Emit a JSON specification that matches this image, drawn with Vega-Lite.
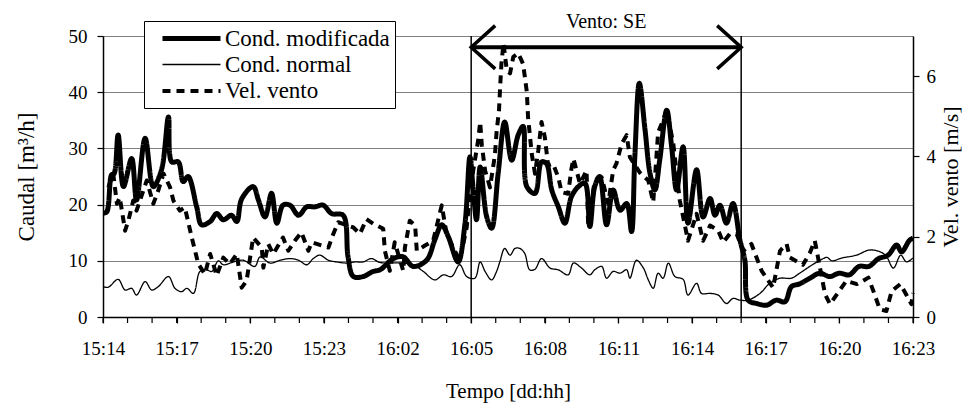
{
  "$schema": "https://vega.github.io/schema/vega-lite/v6.json",
  "width": 810,
  "height": 281,
  "autosize": {"type": "none"},
  "padding": {"left": 103, "top": 36, "right": 56, "bottom": 88},
  "background": "white",
  "config": {
    "font": "Liberation Serif",
    "view": {"stroke": null},
    "axis": {
      "labelFont": "Liberation Serif",
      "titleFont": "Liberation Serif",
      "labelColor": "black",
      "titleColor": "black",
      "titleFontWeight": "normal",
      "domainColor": "black",
      "tickColor": "black",
      "labelFontSize": 19,
      "titleFontSize": 23,
      "domainWidth": 1.5,
      "tickWidth": 1.2,
      "tickSize": 6
    }
  },
  "data": {
    "format": {"parse": {"t": "utc:'%d %H:%M'"}},
    "values": [
      {"s": "Cond. modificada", "t": "15 14:00", "v": 18.5},
      {"s": "Cond. modificada", "t": "15 14:09", "v": 18.7},
      {"s": "Cond. modificada", "t": "15 14:21", "v": 25.3},
      {"s": "Cond. modificada", "t": "15 14:27", "v": 25.5},
      {"s": "Cond. modificada", "t": "15 14:37", "v": 32.4},
      {"s": "Cond. modificada", "t": "15 14:50", "v": 23.2},
      {"s": "Cond. modificada", "t": "15 15:10", "v": 28.2},
      {"s": "Cond. modificada", "t": "15 15:22", "v": 20.8},
      {"s": "Cond. modificada", "t": "15 15:43", "v": 31.8},
      {"s": "Cond. modificada", "t": "15 16:03", "v": 23.2},
      {"s": "Cond. modificada", "t": "15 16:23", "v": 26.2},
      {"s": "Cond. modificada", "t": "15 16:40", "v": 35.6},
      {"s": "Cond. modificada", "t": "15 16:48", "v": 27.6},
      {"s": "Cond. modificada", "t": "15 17:04", "v": 27.6},
      {"s": "Cond. modificada", "t": "15 17:16", "v": 24.1},
      {"s": "Cond. modificada", "t": "15 17:28", "v": 25},
      {"s": "Cond. modificada", "t": "15 17:49", "v": 19.6},
      {"s": "Cond. modificada", "t": "15 18:01", "v": 16.4},
      {"s": "Cond. modificada", "t": "15 18:22", "v": 17},
      {"s": "Cond. modificada", "t": "15 18:38", "v": 18.4},
      {"s": "Cond. modificada", "t": "15 18:54", "v": 17.3},
      {"s": "Cond. modificada", "t": "15 19:14", "v": 18.1},
      {"s": "Cond. modificada", "t": "15 19:27", "v": 17},
      {"s": "Cond. modificada", "t": "15 19:39", "v": 21},
      {"s": "Cond. modificada", "t": "15 20:07", "v": 23.2},
      {"s": "Cond. modificada", "t": "15 20:20", "v": 20.8},
      {"s": "Cond. modificada", "t": "15 20:36", "v": 17.8},
      {"s": "Cond. modificada", "t": "15 20:52", "v": 22},
      {"s": "Cond. modificada", "t": "15 21:05", "v": 16.7},
      {"s": "Cond. modificada", "t": "15 21:20", "v": 19.9},
      {"s": "Cond. modificada", "t": "15 21:37", "v": 19.9},
      {"s": "Cond. modificada", "t": "15 21:58", "v": 18.1},
      {"s": "Cond. modificada", "t": "15 22:18", "v": 19.6},
      {"s": "Cond. modificada", "t": "15 22:38", "v": 19.6},
      {"s": "Cond. modificada", "t": "15 22:58", "v": 19.9},
      {"s": "Cond. modificada", "t": "15 23:19", "v": 18.4},
      {"s": "Cond. modificada", "t": "15 23:47", "v": 18.1},
      {"s": "Cond. modificada", "t": "15 23:59", "v": 10.7},
      {"s": "Cond. modificada", "t": "16 00:12", "v": 7.2},
      {"s": "Cond. modificada", "t": "16 00:36", "v": 7.2},
      {"s": "Cond. modificada", "t": "16 01:00", "v": 8.1},
      {"s": "Cond. modificada", "t": "16 01:17", "v": 8.4},
      {"s": "Cond. modificada", "t": "16 01:50", "v": 10.4},
      {"s": "Cond. modificada", "t": "16 02:14", "v": 10.7},
      {"s": "Cond. modificada", "t": "16 02:38", "v": 9},
      {"s": "Cond. modificada", "t": "16 03:11", "v": 10.1},
      {"s": "Cond. modificada", "t": "16 03:31", "v": 13.7},
      {"s": "Cond. modificada", "t": "16 03:48", "v": 16.4},
      {"s": "Cond. modificada", "t": "16 04:04", "v": 14.3},
      {"s": "Cond. modificada", "t": "16 04:28", "v": 9.8},
      {"s": "Cond. modificada", "t": "16 04:45", "v": 16.7},
      {"s": "Cond. modificada", "t": "16 04:57", "v": 28.5},
      {"s": "Cond. modificada", "t": "16 05:05", "v": 22.6},
      {"s": "Cond. modificada", "t": "16 05:13", "v": 17.3},
      {"s": "Cond. modificada", "t": "16 05:22", "v": 26.7},
      {"s": "Cond. modificada", "t": "16 05:38", "v": 17.8},
      {"s": "Cond. modificada", "t": "16 05:50", "v": 15.8},
      {"s": "Cond. modificada", "t": "16 06:06", "v": 25.6},
      {"s": "Cond. modificada", "t": "16 06:22", "v": 34.7},
      {"s": "Cond. modificada", "t": "16 06:39", "v": 27.9},
      {"s": "Cond. modificada", "t": "16 06:55", "v": 32.4},
      {"s": "Cond. modificada", "t": "16 07:07", "v": 33.9},
      {"s": "Cond. modificada", "t": "16 07:16", "v": 23.2},
      {"s": "Cond. modificada", "t": "16 07:36", "v": 22},
      {"s": "Cond. modificada", "t": "16 07:52", "v": 27.6},
      {"s": "Cond. modificada", "t": "16 08:04", "v": 27.3},
      {"s": "Cond. modificada", "t": "16 08:17", "v": 22.6},
      {"s": "Cond. modificada", "t": "16 08:33", "v": 19.6},
      {"s": "Cond. modificada", "t": "16 08:49", "v": 16.7},
      {"s": "Cond. modificada", "t": "16 09:05", "v": 21.4},
      {"s": "Cond. modificada", "t": "16 09:22", "v": 23.2},
      {"s": "Cond. modificada", "t": "16 09:38", "v": 23.8},
      {"s": "Cond. modificada", "t": "16 09:50", "v": 16.1},
      {"s": "Cond. modificada", "t": "16 10:02", "v": 23.2},
      {"s": "Cond. modificada", "t": "16 10:14", "v": 25},
      {"s": "Cond. modificada", "t": "16 10:31", "v": 16.4},
      {"s": "Cond. modificada", "t": "16 10:47", "v": 22.6},
      {"s": "Cond. modificada", "t": "16 11:04", "v": 19},
      {"s": "Cond. modificada", "t": "16 11:20", "v": 20.2},
      {"s": "Cond. modificada", "t": "16 11:32", "v": 15.2},
      {"s": "Cond. modificada", "t": "16 11:40", "v": 28.5},
      {"s": "Cond. modificada", "t": "16 11:51", "v": 41.6},
      {"s": "Cond. modificada", "t": "16 12:05", "v": 33.3},
      {"s": "Cond. modificada", "t": "16 12:17", "v": 25.6},
      {"s": "Cond. modificada", "t": "16 12:29", "v": 22.6},
      {"s": "Cond. modificada", "t": "16 12:41", "v": 28},
      {"s": "Cond. modificada", "t": "16 12:58", "v": 36.8},
      {"s": "Cond. modificada", "t": "16 13:10", "v": 30.3},
      {"s": "Cond. modificada", "t": "16 13:22", "v": 22.6},
      {"s": "Cond. modificada", "t": "16 13:38", "v": 30.3},
      {"s": "Cond. modificada", "t": "16 13:50", "v": 16.7},
      {"s": "Cond. modificada", "t": "16 14:11", "v": 26.2},
      {"s": "Cond. modificada", "t": "16 14:27", "v": 17.8},
      {"s": "Cond. modificada", "t": "16 14:44", "v": 21.1},
      {"s": "Cond. modificada", "t": "16 14:56", "v": 18.1},
      {"s": "Cond. modificada", "t": "16 15:08", "v": 19.9},
      {"s": "Cond. modificada", "t": "16 15:24", "v": 16.7},
      {"s": "Cond. modificada", "t": "16 15:40", "v": 20.2},
      {"s": "Cond. modificada", "t": "16 15:57", "v": 13.7},
      {"s": "Cond. modificada", "t": "16 16:09", "v": 10.1},
      {"s": "Cond. modificada", "t": "16 16:17", "v": 3},
      {"s": "Cond. modificada", "t": "16 16:38", "v": 2.4},
      {"s": "Cond. modificada", "t": "16 17:02", "v": 2.1},
      {"s": "Cond. modificada", "t": "16 17:26", "v": 3},
      {"s": "Cond. modificada", "t": "16 17:47", "v": 2.7},
      {"s": "Cond. modificada", "t": "16 18:03", "v": 5.4},
      {"s": "Cond. modificada", "t": "16 18:23", "v": 5.9},
      {"s": "Cond. modificada", "t": "16 18:48", "v": 6.9},
      {"s": "Cond. modificada", "t": "16 19:12", "v": 7.8},
      {"s": "Cond. modificada", "t": "16 19:36", "v": 7.2},
      {"s": "Cond. modificada", "t": "16 20:00", "v": 7.8},
      {"s": "Cond. modificada", "t": "16 20:24", "v": 7.5},
      {"s": "Cond. modificada", "t": "16 20:48", "v": 9},
      {"s": "Cond. modificada", "t": "16 21:12", "v": 9},
      {"s": "Cond. modificada", "t": "16 21:36", "v": 10.4},
      {"s": "Cond. modificada", "t": "16 21:59", "v": 11},
      {"s": "Cond. modificada", "t": "16 22:20", "v": 12.8},
      {"s": "Cond. modificada", "t": "16 22:32", "v": 11.6},
      {"s": "Cond. modificada", "t": "16 22:52", "v": 13.7},
      {"s": "Cond. modificada", "t": "16 23:00", "v": 14},

      {"s": "Cond. normal", "t": "15 14:00", "v": 5.4},
      {"s": "Cond. normal", "t": "15 14:13", "v": 5.3},
      {"s": "Cond. normal", "t": "15 14:37", "v": 6.7},
      {"s": "Cond. normal", "t": "15 14:54", "v": 4.8},
      {"s": "Cond. normal", "t": "15 15:10", "v": 5.1},
      {"s": "Cond. normal", "t": "15 15:22", "v": 3.9},
      {"s": "Cond. normal", "t": "15 15:43", "v": 6.3},
      {"s": "Cond. normal", "t": "15 15:59", "v": 4.8},
      {"s": "Cond. normal", "t": "15 16:15", "v": 5.4},
      {"s": "Cond. normal", "t": "15 16:40", "v": 7.2},
      {"s": "Cond. normal", "t": "15 16:56", "v": 5.1},
      {"s": "Cond. normal", "t": "15 17:12", "v": 4.5},
      {"s": "Cond. normal", "t": "15 17:25", "v": 5.1},
      {"s": "Cond. normal", "t": "15 17:41", "v": 4.2},
      {"s": "Cond. normal", "t": "15 17:57", "v": 8.1},
      {"s": "Cond. normal", "t": "15 18:13", "v": 8.4},
      {"s": "Cond. normal", "t": "15 18:26", "v": 8.1},
      {"s": "Cond. normal", "t": "15 18:42", "v": 10},
      {"s": "Cond. normal", "t": "15 18:54", "v": 9.3},
      {"s": "Cond. normal", "t": "15 19:19", "v": 9.8},
      {"s": "Cond. normal", "t": "15 19:43", "v": 10.1},
      {"s": "Cond. normal", "t": "15 20:11", "v": 9},
      {"s": "Cond. normal", "t": "15 20:24", "v": 10.7},
      {"s": "Cond. normal", "t": "15 20:48", "v": 9.6},
      {"s": "Cond. normal", "t": "15 21:13", "v": 10.1},
      {"s": "Cond. normal", "t": "15 21:37", "v": 10.4},
      {"s": "Cond. normal", "t": "15 21:58", "v": 10.1},
      {"s": "Cond. normal", "t": "15 22:18", "v": 9.3},
      {"s": "Cond. normal", "t": "15 22:34", "v": 10.4},
      {"s": "Cond. normal", "t": "15 22:50", "v": 11},
      {"s": "Cond. normal", "t": "15 23:11", "v": 10.1},
      {"s": "Cond. normal", "t": "15 23:31", "v": 9.8},
      {"s": "Cond. normal", "t": "15 23:56", "v": 9.6},
      {"s": "Cond. normal", "t": "16 00:16", "v": 9.8},
      {"s": "Cond. normal", "t": "16 00:36", "v": 9.8},
      {"s": "Cond. normal", "t": "16 00:56", "v": 10.4},
      {"s": "Cond. normal", "t": "16 01:17", "v": 9.7},
      {"s": "Cond. normal", "t": "16 02:06", "v": 9.6},
      {"s": "Cond. normal", "t": "16 02:38", "v": 9.3},
      {"s": "Cond. normal", "t": "16 03:03", "v": 8.1},
      {"s": "Cond. normal", "t": "16 03:31", "v": 6.6},
      {"s": "Cond. normal", "t": "16 03:52", "v": 7.5},
      {"s": "Cond. normal", "t": "16 04:12", "v": 7.2},
      {"s": "Cond. normal", "t": "16 04:32", "v": 9.3},
      {"s": "Cond. normal", "t": "16 04:49", "v": 7.2},
      {"s": "Cond. normal", "t": "16 05:09", "v": 6.9},
      {"s": "Cond. normal", "t": "16 05:22", "v": 9.8},
      {"s": "Cond. normal", "t": "16 05:34", "v": 8.1},
      {"s": "Cond. normal", "t": "16 05:50", "v": 6.6},
      {"s": "Cond. normal", "t": "16 06:02", "v": 8.1},
      {"s": "Cond. normal", "t": "16 06:10", "v": 9.8},
      {"s": "Cond. normal", "t": "16 06:22", "v": 12.2},
      {"s": "Cond. normal", "t": "16 06:35", "v": 11},
      {"s": "Cond. normal", "t": "16 06:47", "v": 12.2},
      {"s": "Cond. normal", "t": "16 06:59", "v": 12.2},
      {"s": "Cond. normal", "t": "16 07:11", "v": 11.3},
      {"s": "Cond. normal", "t": "16 07:23", "v": 8.4},
      {"s": "Cond. normal", "t": "16 07:36", "v": 8.5},
      {"s": "Cond. normal", "t": "16 07:52", "v": 10.4},
      {"s": "Cond. normal", "t": "16 08:13", "v": 8.7},
      {"s": "Cond. normal", "t": "16 08:33", "v": 8.4},
      {"s": "Cond. normal", "t": "16 08:57", "v": 7.5},
      {"s": "Cond. normal", "t": "16 09:10", "v": 9.6},
      {"s": "Cond. normal", "t": "16 09:30", "v": 8.7},
      {"s": "Cond. normal", "t": "16 09:50", "v": 7.5},
      {"s": "Cond. normal", "t": "16 10:02", "v": 8.4},
      {"s": "Cond. normal", "t": "16 10:19", "v": 9},
      {"s": "Cond. normal", "t": "16 10:31", "v": 6.9},
      {"s": "Cond. normal", "t": "16 10:47", "v": 8.1},
      {"s": "Cond. normal", "t": "16 11:04", "v": 7.8},
      {"s": "Cond. normal", "t": "16 11:20", "v": 8.4},
      {"s": "Cond. normal", "t": "16 11:28", "v": 6.9},
      {"s": "Cond. normal", "t": "16 11:44", "v": 10.1},
      {"s": "Cond. normal", "t": "16 12:01", "v": 8.7},
      {"s": "Cond. normal", "t": "16 12:13", "v": 6.6},
      {"s": "Cond. normal", "t": "16 12:25", "v": 5.1},
      {"s": "Cond. normal", "t": "16 12:37", "v": 7.8},
      {"s": "Cond. normal", "t": "16 12:49", "v": 6.9},
      {"s": "Cond. normal", "t": "16 13:02", "v": 9.6},
      {"s": "Cond. normal", "t": "16 13:18", "v": 7.2},
      {"s": "Cond. normal", "t": "16 13:38", "v": 6.7},
      {"s": "Cond. normal", "t": "16 13:50", "v": 3.9},
      {"s": "Cond. normal", "t": "16 14:11", "v": 6},
      {"s": "Cond. normal", "t": "16 14:23", "v": 4.2},
      {"s": "Cond. normal", "t": "16 14:44", "v": 4.2},
      {"s": "Cond. normal", "t": "16 15:04", "v": 3.9},
      {"s": "Cond. normal", "t": "16 15:24", "v": 2.4},
      {"s": "Cond. normal", "t": "16 15:40", "v": 3.3},
      {"s": "Cond. normal", "t": "16 15:57", "v": 3},
      {"s": "Cond. normal", "t": "16 16:17", "v": 3},
      {"s": "Cond. normal", "t": "16 16:46", "v": 4.2},
      {"s": "Cond. normal", "t": "16 17:10", "v": 6},
      {"s": "Cond. normal", "t": "16 17:35", "v": 6.9},
      {"s": "Cond. normal", "t": "16 18:03", "v": 6.9},
      {"s": "Cond. normal", "t": "16 18:23", "v": 7.8},
      {"s": "Cond. normal", "t": "16 18:54", "v": 9.3},
      {"s": "Cond. normal", "t": "16 19:18", "v": 10.3},
      {"s": "Cond. normal", "t": "16 19:30", "v": 10.6},
      {"s": "Cond. normal", "t": "16 19:42", "v": 10},
      {"s": "Cond. normal", "t": "16 20:06", "v": 10.5},
      {"s": "Cond. normal", "t": "16 20:42", "v": 11},
      {"s": "Cond. normal", "t": "16 21:12", "v": 11.9},
      {"s": "Cond. normal", "t": "16 21:36", "v": 11.7},
      {"s": "Cond. normal", "t": "16 21:54", "v": 10.9},
      {"s": "Cond. normal", "t": "16 22:12", "v": 8.7},
      {"s": "Cond. normal", "t": "16 22:30", "v": 11},
      {"s": "Cond. normal", "t": "16 22:44", "v": 9.8},
      {"s": "Cond. normal", "t": "16 23:00", "v": 10.5},

      {"s": "Vel. vento", "t": "15 14:13", "v": 3.23},
      {"s": "Vel. vento", "t": "15 14:25", "v": 3.57},
      {"s": "Vel. vento", "t": "15 14:34", "v": 2.82},
      {"s": "Vel. vento", "t": "15 14:41", "v": 2.98},
      {"s": "Vel. vento", "t": "15 14:54", "v": 2.15},
      {"s": "Vel. vento", "t": "15 15:02", "v": 2.4},
      {"s": "Vel. vento", "t": "15 15:14", "v": 2.9},
      {"s": "Vel. vento", "t": "15 15:22", "v": 2.65},
      {"s": "Vel. vento", "t": "15 15:47", "v": 3.4},
      {"s": "Vel. vento", "t": "15 16:03", "v": 2.82},
      {"s": "Vel. vento", "t": "15 16:15", "v": 3.15},
      {"s": "Vel. vento", "t": "15 16:28", "v": 3.57},
      {"s": "Vel. vento", "t": "15 16:44", "v": 3.23},
      {"s": "Vel. vento", "t": "15 16:52", "v": 2.9},
      {"s": "Vel. vento", "t": "15 17:08", "v": 2.65},
      {"s": "Vel. vento", "t": "15 17:20", "v": 2.73},
      {"s": "Vel. vento", "t": "15 17:37", "v": 1.98},
      {"s": "Vel. vento", "t": "15 17:53", "v": 1.32},
      {"s": "Vel. vento", "t": "15 18:09", "v": 1.07},
      {"s": "Vel. vento", "t": "15 18:22", "v": 1.57},
      {"s": "Vel. vento", "t": "15 18:38", "v": 1.03},
      {"s": "Vel. vento", "t": "15 18:54", "v": 1.48},
      {"s": "Vel. vento", "t": "15 19:10", "v": 1.32},
      {"s": "Vel. vento", "t": "15 19:27", "v": 1.57},
      {"s": "Vel. vento", "t": "15 19:39", "v": 0.73},
      {"s": "Vel. vento", "t": "15 19:51", "v": 0.9},
      {"s": "Vel. vento", "t": "15 20:07", "v": 1.98},
      {"s": "Vel. vento", "t": "15 20:28", "v": 1.73},
      {"s": "Vel. vento", "t": "15 20:32", "v": 1.23},
      {"s": "Vel. vento", "t": "15 20:44", "v": 1.82},
      {"s": "Vel. vento", "t": "15 20:56", "v": 1.57},
      {"s": "Vel. vento", "t": "15 21:20", "v": 1.98},
      {"s": "Vel. vento", "t": "15 21:33", "v": 1.65},
      {"s": "Vel. vento", "t": "15 21:49", "v": 1.9},
      {"s": "Vel. vento", "t": "15 22:05", "v": 2.11},
      {"s": "Vel. vento", "t": "15 22:22", "v": 1.65},
      {"s": "Vel. vento", "t": "15 22:30", "v": 1.86},
      {"s": "Vel. vento", "t": "15 23:11", "v": 1.73},
      {"s": "Vel. vento", "t": "15 23:23", "v": 2.07},
      {"s": "Vel. vento", "t": "15 23:35", "v": 2.36},
      {"s": "Vel. vento", "t": "16 00:12", "v": 2.23},
      {"s": "Vel. vento", "t": "16 00:28", "v": 2.07},
      {"s": "Vel. vento", "t": "16 00:44", "v": 2.44},
      {"s": "Vel. vento", "t": "16 01:01", "v": 2.32},
      {"s": "Vel. vento", "t": "16 01:25", "v": 2.2},
      {"s": "Vel. vento", "t": "16 01:29", "v": 1.65},
      {"s": "Vel. vento", "t": "16 01:41", "v": 1.15},
      {"s": "Vel. vento", "t": "16 01:53", "v": 1.86},
      {"s": "Vel. vento", "t": "16 02:14", "v": 1.15},
      {"s": "Vel. vento", "t": "16 02:18", "v": 1.73},
      {"s": "Vel. vento", "t": "16 02:30", "v": 2.4},
      {"s": "Vel. vento", "t": "16 02:43", "v": 2.28},
      {"s": "Vel. vento", "t": "16 02:47", "v": 1.65},
      {"s": "Vel. vento", "t": "16 03:07", "v": 1.78},
      {"s": "Vel. vento", "t": "16 03:27", "v": 1.9},
      {"s": "Vel. vento", "t": "16 03:48", "v": 2.78},
      {"s": "Vel. vento", "t": "16 04:00", "v": 2.07},
      {"s": "Vel. vento", "t": "16 04:20", "v": 1.65},
      {"s": "Vel. vento", "t": "16 04:32", "v": 1.4},
      {"s": "Vel. vento", "t": "16 04:49", "v": 2.23},
      {"s": "Vel. vento", "t": "16 04:53", "v": 2.65},
      {"s": "Vel. vento", "t": "16 05:05", "v": 3.65},
      {"s": "Vel. vento", "t": "16 05:17", "v": 4.4},
      {"s": "Vel. vento", "t": "16 05:22", "v": 4.86},
      {"s": "Vel. vento", "t": "16 05:26", "v": 4.28},
      {"s": "Vel. vento", "t": "16 05:34", "v": 3.65},
      {"s": "Vel. vento", "t": "16 05:46", "v": 3.23},
      {"s": "Vel. vento", "t": "16 05:58", "v": 4.03},
      {"s": "Vel. vento", "t": "16 06:02", "v": 4.6},
      {"s": "Vel. vento", "t": "16 06:08", "v": 5.15},
      {"s": "Vel. vento", "t": "16 06:11", "v": 5.78},
      {"s": "Vel. vento", "t": "16 06:14", "v": 6.32},
      {"s": "Vel. vento", "t": "16 06:19", "v": 6.82},
      {"s": "Vel. vento", "t": "16 06:27", "v": 6.15},
      {"s": "Vel. vento", "t": "16 06:35", "v": 6.07},
      {"s": "Vel. vento", "t": "16 06:43", "v": 6.48},
      {"s": "Vel. vento", "t": "16 06:55", "v": 6.57},
      {"s": "Vel. vento", "t": "16 07:07", "v": 6.3},
      {"s": "Vel. vento", "t": "16 07:16", "v": 5.61},
      {"s": "Vel. vento", "t": "16 07:19", "v": 4.98},
      {"s": "Vel. vento", "t": "16 07:28", "v": 4.07},
      {"s": "Vel. vento", "t": "16 07:36", "v": 3.57},
      {"s": "Vel. vento", "t": "16 07:44", "v": 4.15},
      {"s": "Vel. vento", "t": "16 07:52", "v": 4.86},
      {"s": "Vel. vento", "t": "16 08:00", "v": 4.48},
      {"s": "Vel. vento", "t": "16 08:08", "v": 3.78},
      {"s": "Vel. vento", "t": "16 08:20", "v": 3.82},
      {"s": "Vel. vento", "t": "16 08:33", "v": 3.48},
      {"s": "Vel. vento", "t": "16 08:41", "v": 3.11},
      {"s": "Vel. vento", "t": "16 08:57", "v": 3.07},
      {"s": "Vel. vento", "t": "16 09:05", "v": 3.69},
      {"s": "Vel. vento", "t": "16 09:10", "v": 3.94},
      {"s": "Vel. vento", "t": "16 09:26", "v": 3.32},
      {"s": "Vel. vento", "t": "16 09:42", "v": 3.65},
      {"s": "Vel. vento", "t": "16 09:46", "v": 2.28},
      {"s": "Vel. vento", "t": "16 10:02", "v": 3.4},
      {"s": "Vel. vento", "t": "16 10:19", "v": 3.48},
      {"s": "Vel. vento", "t": "16 10:35", "v": 2.82},
      {"s": "Vel. vento", "t": "16 10:47", "v": 3.65},
      {"s": "Vel. vento", "t": "16 10:55", "v": 3.82},
      {"s": "Vel. vento", "t": "16 11:08", "v": 4.32},
      {"s": "Vel. vento", "t": "16 11:20", "v": 4.53},
      {"s": "Vel. vento", "t": "16 11:28", "v": 3.98},
      {"s": "Vel. vento", "t": "16 11:52", "v": 3.6},
      {"s": "Vel. vento", "t": "16 12:13", "v": 3.4},
      {"s": "Vel. vento", "t": "16 12:25", "v": 2.86},
      {"s": "Vel. vento", "t": "16 12:37", "v": 4.6},
      {"s": "Vel. vento", "t": "16 12:49", "v": 4.9},
      {"s": "Vel. vento", "t": "16 12:58", "v": 5.15},
      {"s": "Vel. vento", "t": "16 13:14", "v": 4.32},
      {"s": "Vel. vento", "t": "16 13:30", "v": 2.9},
      {"s": "Vel. vento", "t": "16 13:50", "v": 1.9},
      {"s": "Vel. vento", "t": "16 14:11", "v": 2.57},
      {"s": "Vel. vento", "t": "16 14:27", "v": 1.9},
      {"s": "Vel. vento", "t": "16 14:44", "v": 2.28},
      {"s": "Vel. vento", "t": "16 15:04", "v": 2.15},
      {"s": "Vel. vento", "t": "16 15:16", "v": 1.86},
      {"s": "Vel. vento", "t": "16 15:32", "v": 2.07},
      {"s": "Vel. vento", "t": "16 15:49", "v": 2.07},
      {"s": "Vel. vento", "t": "16 16:05", "v": 1.65},
      {"s": "Vel. vento", "t": "16 16:25", "v": 1.82},
      {"s": "Vel. vento", "t": "16 16:50", "v": 1.15},
      {"s": "Vel. vento", "t": "16 17:18", "v": 0.73},
      {"s": "Vel. vento", "t": "16 17:35", "v": 1.65},
      {"s": "Vel. vento", "t": "16 17:51", "v": 1.82},
      {"s": "Vel. vento", "t": "16 17:59", "v": 1.48},
      {"s": "Vel. vento", "t": "16 18:31", "v": 1.3},
      {"s": "Vel. vento", "t": "16 18:48", "v": 1.6},
      {"s": "Vel. vento", "t": "16 19:00", "v": 1.9},
      {"s": "Vel. vento", "t": "16 19:25", "v": 0.57},
      {"s": "Vel. vento", "t": "16 19:37", "v": 0.32},
      {"s": "Vel. vento", "t": "16 20:17", "v": 0.9},
      {"s": "Vel. vento", "t": "16 20:43", "v": 0.82},
      {"s": "Vel. vento", "t": "16 20:58", "v": 0.9},
      {"s": "Vel. vento", "t": "16 21:11", "v": 0.98},
      {"s": "Vel. vento", "t": "16 21:23", "v": 0.65},
      {"s": "Vel. vento", "t": "16 21:39", "v": 0.19},
      {"s": "Vel. vento", "t": "16 21:55", "v": 0.15},
      {"s": "Vel. vento", "t": "16 22:08", "v": 0.65},
      {"s": "Vel. vento", "t": "16 22:29", "v": 0.82},
      {"s": "Vel. vento", "t": "16 22:45", "v": 0.53},
      {"s": "Vel. vento", "t": "16 22:56", "v": 0.32},
      {"s": "Vel. vento", "t": "16 23:00", "v": 0.6}
    ]
  },
  "encoding": {
    "x": {
      "field": "t",
      "type": "temporal",
      "scale": {
        "type": "utc",
        "nice": false,
        "domain": [
          {"year": 1900, "month": 1, "date": 15, "hours": 14, "utc": true},
          {"year": 1900, "month": 1, "date": 16, "hours": 23, "utc": true}
        ]
      },
      "axis": {
        "title": "Tempo [dd:hh]",
        "titleFontSize": 21,
        "format": "%d:%H",
        "values": [
          {"year": 1900, "month": 1, "date": 15, "hours": 14, "utc": true},
          {"year": 1900, "month": 1, "date": 15, "hours": 17, "utc": true},
          {"year": 1900, "month": 1, "date": 15, "hours": 20, "utc": true},
          {"year": 1900, "month": 1, "date": 15, "hours": 23, "utc": true},
          {"year": 1900, "month": 1, "date": 16, "hours": 2, "utc": true},
          {"year": 1900, "month": 1, "date": 16, "hours": 5, "utc": true},
          {"year": 1900, "month": 1, "date": 16, "hours": 8, "utc": true},
          {"year": 1900, "month": 1, "date": 16, "hours": 11, "utc": true},
          {"year": 1900, "month": 1, "date": 16, "hours": 14, "utc": true},
          {"year": 1900, "month": 1, "date": 16, "hours": 17, "utc": true},
          {"year": 1900, "month": 1, "date": 16, "hours": 20, "utc": true},
          {"year": 1900, "month": 1, "date": 16, "hours": 23, "utc": true}
        ],
        "labelFlush": false,
        "grid": false,
        "labelPadding": 16,
        "titlePadding": 22
      }
    }
  },
  "layer": [
    {
      "layer": [
        {
          "transform": [{"filter": "datum.s != 'Vel. vento'"}],
          "mark": {"type": "line", "interpolate": "catmull-rom", "strokeJoin": "round"},
          "encoding": {
            "y": {
              "field": "v",
              "type": "quantitative",
              "scale": {"domain": [0, 50], "nice": false},
              "axis": {
                "title": "Caudal [m³/h]",
                "values": [0, 10, 20, 30, 40, 50],
                "grid": true,
                "gridColor": "#808080",
                "gridWidth": 1,
                "labelPadding": 10,
                "titlePadding": 30
              }
            },
            "color": {
              "field": "s",
              "type": "nominal",
              "scale": {"domain": ["Cond. modificada", "Cond. normal", "Vel. vento"], "range": ["black", "black", "black"]},
              "legend": {
                "orient": "none",
                "legendX": 41,
                "legendY": -15,
                "title": null,
                "strokeColor": "black",
                "fillColor": "white",
                "padding": 5,
                "cornerRadius": 0,
                "symbolType": "M-3,0L3,0",
                "symbolSize": 374,
                "symbolOffset": 30,
                "labelOffset": 21,
                "labelFont": "Liberation Serif",
                "labelFontSize": 23,
                "labelColor": "black",
                "labelLimit": 400,
                "rowPadding": 2
              }
            },
            "strokeDash": {
              "field": "s",
              "type": "nominal",
              "scale": {"domain": ["Cond. modificada", "Cond. normal", "Vel. vento"], "range": [[1, 0], [1, 0], [8, 6]]}
            },
            "strokeWidth": {
              "field": "s",
              "type": "nominal",
              "scale": {"type": "ordinal", "domain": ["Cond. modificada", "Cond. normal", "Vel. vento"], "range": [5, 1.3, 4]}
            }
          }
        },
        {
          "data": {
            "format": {"parse": {"t": "utc:'%d %H:%M'"}},
            "values": [
              {"t": "15 14:00"}, {"t": "15 15:00"}, {"t": "15 16:00"}, {"t": "15 17:00"}, {"t": "15 18:00"},
              {"t": "15 19:00"}, {"t": "15 20:00"}, {"t": "15 21:00"}, {"t": "15 22:00"}, {"t": "15 23:00"},
              {"t": "16 00:00"}, {"t": "16 01:00"}, {"t": "16 02:00"}, {"t": "16 03:00"}, {"t": "16 04:00"},
              {"t": "16 05:00"}, {"t": "16 06:00"}, {"t": "16 07:00"}, {"t": "16 08:00"}, {"t": "16 09:00"},
              {"t": "16 10:00"}, {"t": "16 11:00"}, {"t": "16 12:00"}, {"t": "16 13:00"}, {"t": "16 14:00"},
              {"t": "16 15:00"}, {"t": "16 16:00"}, {"t": "16 17:00"}, {"t": "16 18:00"}, {"t": "16 19:00"},
              {"t": "16 20:00"}, {"t": "16 21:00"}, {"t": "16 22:00"}, {"t": "16 23:00"}
            ]
          },
          "mark": {"type": "rule", "color": "black", "strokeWidth": 1.2},
          "encoding": {"y": {"datum": 0}, "y2": {"datum": -1.07}}
        },
        {
          "data": {
            "format": {"parse": {"t": "utc:'%d %H:%M'"}},
            "values": [{"t": "16 05:00"}, {"t": "16 16:00"}]
          },
          "mark": {"type": "rule", "color": "black", "strokeWidth": 1.5},
          "encoding": {}
        },
        {
          "data": {
            "format": {"parse": {"t": "utc:'%d %H:%M'", "t2": "utc:'%d %H:%M'"}},
            "values": [{"t": "16 05:00", "t2": "16 16:00", "y": 48}]
          },
          "layer": [
            {
              "mark": {"type": "rule", "color": "black", "strokeWidth": 4},
              "encoding": {"x2": {"field": "t2"}, "y": {"field": "y", "type": "quantitative"}}
            },
            {
              "mark": {"type": "point", "filled": false, "color": "black", "strokeWidth": 3.5, "size": 576, "shape": "M2,-1.8L0,0L2,1.8", "opacity": 1},
              "encoding": {"y": {"field": "y", "type": "quantitative"}}
            },
            {
              "mark": {"type": "point", "filled": false, "color": "black", "strokeWidth": 3.5, "size": 576, "shape": "M-2,-1.8L0,0L-2,1.8", "opacity": 1},
              "encoding": {"x": {"field": "t2", "type": "temporal"}, "y": {"field": "y", "type": "quantitative"}}
            }
          ]
        },
        {
          "data": {
            "format": {"parse": {"t": "utc:'%d %H:%M'"}},
            "values": [{"t": "16 10:30", "y": 52.5, "label": "Vento: SE"}]
          },
          "mark": {"type": "text", "font": "Liberation Serif", "fontSize": 20, "color": "black", "baseline": "middle", "align": "center"},
          "encoding": {"y": {"field": "y", "type": "quantitative"}, "text": {"field": "label"}}
        }
      ]
    },
    {
      "transform": [{"filter": "datum.s == 'Vel. vento'"}],
      "mark": {"type": "line", "strokeJoin": "round"},
      "encoding": {
        "y": {
          "field": "v",
          "type": "quantitative",
          "scale": {"domain": [0, 7], "nice": false},
          "axis": {
            "orient": "right",
            "title": "Vel. vento [m/s]",
            "titleFontSize": 22,
            "titleAngle": 270,
            "titleBaseline": "top",
            "values": [0, 2, 4, 6],
            "grid": false,
            "labelPadding": 7,
            "titlePadding": 5
          }
        },
        "color": {
          "field": "s",
          "type": "nominal",
          "scale": {"domain": ["Cond. modificada", "Cond. normal", "Vel. vento"], "range": ["black", "black", "black"]}
        },
        "strokeDash": {
          "field": "s",
          "type": "nominal",
          "scale": {"domain": ["Cond. modificada", "Cond. normal", "Vel. vento"], "range": [[1, 0], [1, 0], [8, 6]]}
        },
        "strokeWidth": {
          "field": "s",
          "type": "nominal",
          "scale": {"type": "ordinal", "domain": ["Cond. modificada", "Cond. normal", "Vel. vento"], "range": [5, 1.3, 4]}
        }
      }
    }
  ],
  "resolve": {"scale": {"y": "independent"}}
}
